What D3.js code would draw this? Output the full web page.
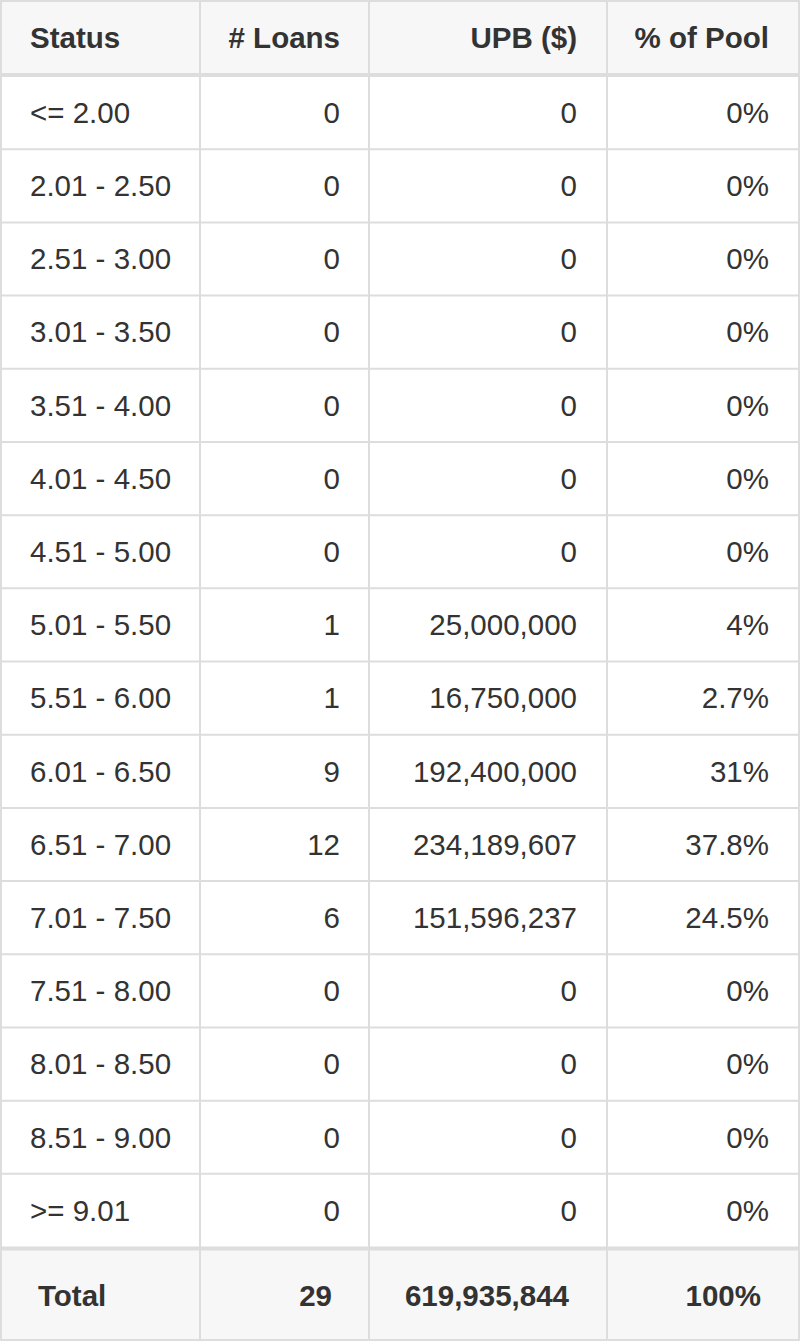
<!DOCTYPE html>
<html><head><meta charset="utf-8">
<script src="https://cdn.jsdelivr.net/npm/d3@7"></script>
<style>body{margin:0;background:#fff}</style></head><body>
<script>
const headers = ["Status", "# Loans", "UPB ($)", "% of Pool"];
const statuses = ["<= 2.00","2.01 - 2.50","2.51 - 3.00","3.01 - 3.50","3.51 - 4.00","4.01 - 4.50","4.51 - 5.00","5.01 - 5.50","5.51 - 6.00","6.01 - 6.50","6.51 - 7.00","7.01 - 7.50","7.51 - 8.00","8.01 - 8.50","8.51 - 9.00",">= 9.01"];
const loans = [0,0,0,0,0,0,0,1,1,9,12,6,0,0,0,0];
const upb = [0,0,0,0,0,0,0,25000000,16750000,192400000,234189607,151596237,0,0,0,0];
const pct = ["0%","0%","0%","0%","0%","0%","0%","4%","2.7%","31%","37.8%","24.5%","0%","0%","0%","0%"];
const totals = ["Total", "29", "619,935,844", "100%"];

const W=800,H=1341;
const svg=d3.select("body").append("svg").attr("width",W).attr("height",H);
const colEdges=[1,200,369,607,799];
const headerH=74, rowTop=76;
const y=d3.scaleBand().domain(d3.range(statuses.length)).range([rowTop,1247]).paddingInner(0);
const totTop=1250, totBot=1339;
const fmt=d3.format(",");
const font="'Liberation Sans', Arial, Helvetica, sans-serif";
const stroke="#dddddd";

svg.append("rect").attr("x",1).attr("y",1).attr("width",798).attr("height",headerH-1).attr("fill","#f7f7f7");
svg.append("rect").attr("x",1).attr("y",totTop).attr("width",798).attr("height",totBot-totTop).attr("fill","#f7f7f7");

const hl=svg.append("g").attr("stroke",stroke);
hl.append("line").attr("x1",0).attr("x2",W).attr("y1",1).attr("y2",1).attr("stroke-width",2);
hl.append("line").attr("x1",0).attr("x2",W).attr("y1",75).attr("y2",75).attr("stroke-width",4);
hl.selectAll("line.r").data(d3.range(1,statuses.length)).join("line").attr("class","r")
  .attr("x1",0).attr("x2",W).attr("y1",d=>y(d)).attr("y2",d=>y(d)).attr("stroke-width",2);
hl.append("line").attr("x1",0).attr("x2",W).attr("y1",1248.5).attr("y2",1248.5).attr("stroke-width",4);
hl.append("line").attr("x1",0).attr("x2",W).attr("y1",1340).attr("y2",1340).attr("stroke-width",2);
svg.append("g").attr("stroke",stroke).attr("stroke-width",2).selectAll("line").data(colEdges).join("line")
  .attr("x1",d=>d).attr("x2",d=>d).attr("y1",0).attr("y2",H);

const anchors=["start","end","end","end"];
const tx=[30,340,577,769];
const g=svg.append("g").style("font-family",font).attr("font-size",29.5).attr("fill","#333");
g.selectAll("text.h").data(headers).join("text").attr("class","h")
  .attr("x",(d,i)=>tx[i]).attr("y",38).attr("dy","0.35em").attr("text-anchor",(d,i)=>anchors[i])
  .attr("font-weight","bold").text(d=>d);
const rows=statuses.map((s,i)=>[s,String(loans[i]),fmt(upb[i]),pct[i]]);
rows.forEach((r,i)=>{
  g.selectAll(null).data(r).join("text").attr("x",(d,j)=>tx[j]).attr("y",y(i)+y.bandwidth()/2)
   .attr("dy","0.35em").attr("text-anchor",(d,j)=>anchors[j]).text(d=>d);
});
const ttx=[38,332,569,761];
g.selectAll("text.t").data(totals).join("text").attr("class","t")
  .attr("x",(d,i)=>ttx[i]).attr("y",1296).attr("dy","0.35em").attr("text-anchor",(d,i)=>anchors[i])
  .attr("font-weight","bold").text(d=>d);
</script></body></html>
